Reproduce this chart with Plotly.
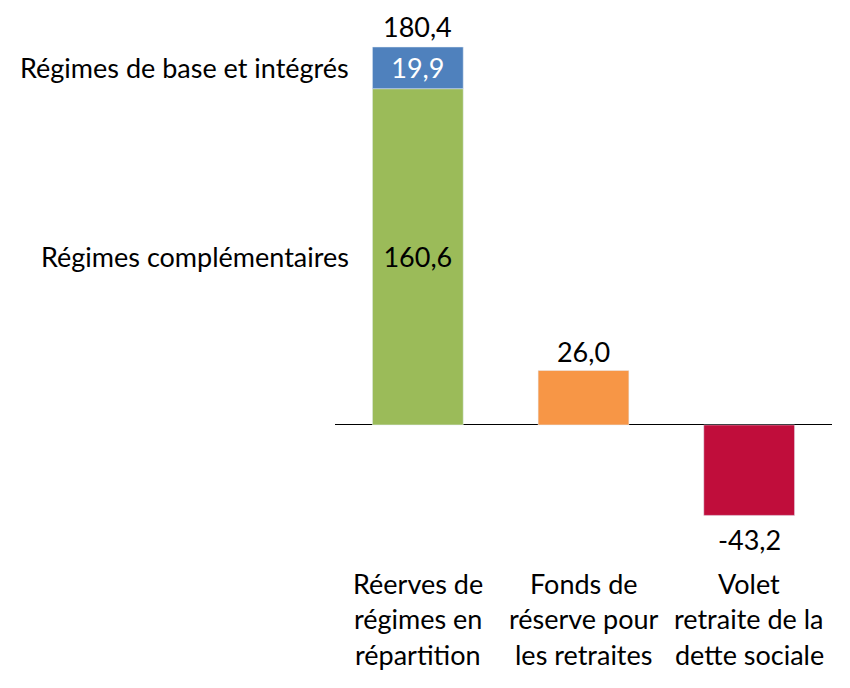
import plotly.graph_objects as go

categories = [0, 1, 2]
category_labels = [
    ["Réerves de", "régimes en", "répartition"],
    ["Fonds de", "réserve pour", "les retraites"],
    ["Volet", "retraite de la", "dette sociale"],
]
complementaires = [160.6]
base_integres = [19.9]
fonds_reserve = [26.0]
volet_dette = [-43.2]
total_repartition = 180.4
series_names = ["Régimes complémentaires", "Régimes de base et intégrés"]

FONT = "Lato"
FS = 27

fig = go.Figure()
fig.add_trace(go.Bar(x=[categories[0]], y=complementaires, marker_color="#9BBB59",
                     texttemplate="%{y:.1f}", textposition="inside", insidetextanchor="middle",
                     textfont=dict(color="black", size=FS), name=series_names[0]))
fig.add_trace(go.Bar(x=[categories[0]], y=base_integres, marker_color="#4F81BD",
                     texttemplate="%{y:.1f}", textposition="inside", insidetextanchor="middle",
                     textfont=dict(color="white", size=FS), name=series_names[1]))
fig.add_trace(go.Bar(x=[categories[1]], y=fonds_reserve, marker_color="#F79646",
                     texttemplate="%{y:.1f}", textposition="outside",
                     textfont=dict(color="black", size=FS), name="Fonds"))
fig.add_trace(go.Bar(x=[categories[2]], y=volet_dette, marker_color="#C00D3B",
                     textposition="none", name="Volet"))

def fmt(v):
    return f"{v:.1f}".replace(".", ",")

annotations = []
annotations.append(dict(x=categories[0], y=complementaires[0] + base_integres[0], xref="x", yref="y",
                        text=fmt(total_repartition), showarrow=False,
                        yanchor="bottom", yshift=2, font=dict(size=FS, color="black", family=FONT)))
annotations.append(dict(x=categories[2], y=volet_dette[0], xref="x", yref="y",
                        text=fmt(volet_dette[0]), showarrow=False,
                        yanchor="middle", yshift=-24, font=dict(size=FS, color="black", family=FONT)))
annotations.append(dict(x=categories[0], y=complementaires[0] / 2, xref="x", yref="y",
                        text=series_names[0], showarrow=False, xanchor="right", xshift=-67,
                        font=dict(size=FS, color="black", family=FONT)))
annotations.append(dict(x=categories[0], y=complementaires[0] + base_integres[0] / 2, xref="x", yref="y",
                        text=series_names[1], showarrow=False, xanchor="right", xshift=-67,
                        font=dict(size=FS, color="black", family=FONT)))
for c, lines in zip(categories, category_labels):
    for i, line in enumerate(lines):
        annotations.append(dict(x=c, y=0, xref="x", yref="paper", text=line, showarrow=False,
                                yanchor="middle", yshift=-23 - 35.5 * i,
                                font=dict(size=FS, color="black", family=FONT)))

fig.update_layout(
    width=842, height=680,
    barmode="relative", bargap=0.452,
    separators=", ",
    showlegend=False,
    plot_bgcolor="white", paper_bgcolor="white",
    margin=dict(l=327, r=18, t=12, b=128),
    font=dict(family=FONT, size=FS, color="black"),
    xaxis=dict(range=[-0.5, 2.5], showticklabels=False, showgrid=False, zeroline=False, showline=False),
    yaxis=dict(range=[-64.5, 193.4], showticklabels=False, showgrid=False,
               zeroline=True, zerolinecolor="black", zerolinewidth=1),
    annotations=annotations,
    uniformtext=dict(minsize=FS, mode="show"),
)
fig.update_traces(cliponaxis=False)
fig.write_html("out.html")
